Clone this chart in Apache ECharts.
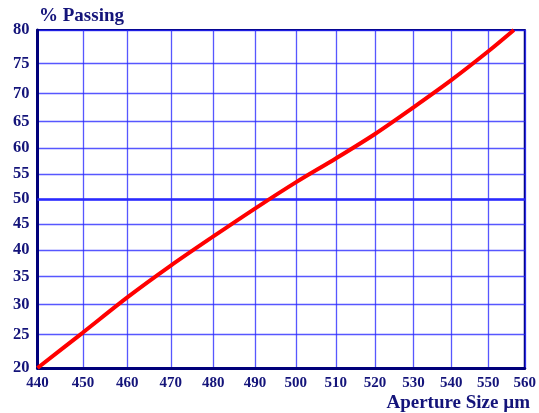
<!DOCTYPE html>
<html>
<head>
<meta charset="utf-8">
<script src="https://cdn.jsdelivr.net/npm/echarts@6/dist/echarts.min.js"></script>
<style>html,body{margin:0;padding:0;background:#fff}#c{width:539px;height:413px}</style>
</head>
<body>
<div id="c"></div>
<script>
// Data (aperture size in µm, % passing)
var sizes   = [440, 450, 460, 470, 480, 490, 500, 510, 520, 530, 540, 550, 557];
var passing = [20, 25.3, 31.2, 37, 42.6, 48.1, 53.3, 58.0, 62.7, 67.6, 72.3, 76.9, 80];
var xTicks = [440, 450, 460, 470, 480, 490, 500, 510, 520, 530, 540, 550, 560];
var yTicks = [20, 25, 30, 35, 40, 45, 50, 55, 60, 65, 70, 75, 80];

// inverse normal CDF (Acklam) for probability-scale axis
function probit(p) {
  var a = [-3.969683028665376e+01, 2.209460984245205e+02, -2.759285104469687e+02, 1.383577518672690e+02, -3.066479806614716e+01, 2.506628277459239e+00];
  var b = [-5.447609879822406e+01, 1.615858368580409e+02, -1.556989798598866e+02, 6.680131188771972e+01, -1.328068155288572e+01];
  var c = [-7.784894002430293e-03, -3.223964580411365e-01, -2.400758277161838e+00, -2.549732539343734e+00, 4.374664141464968e+00, 2.938163982698783e+00];
  var d = [7.784695709041462e-03, 3.224671290700398e-01, 2.445134137142996e+00, 3.754408661907416e+00];
  var pl = 0.02425, q, r;
  if (p < pl) { q = Math.sqrt(-2 * Math.log(p)); return (((((c[0]*q+c[1])*q+c[2])*q+c[3])*q+c[4])*q+c[5]) / ((((d[0]*q+d[1])*q+d[2])*q+d[3])*q+1); }
  if (p > 1 - pl) { q = Math.sqrt(-2 * Math.log(1 - p)); return -(((((c[0]*q+c[1])*q+c[2])*q+c[3])*q+c[4])*q+c[5]) / ((((d[0]*q+d[1])*q+d[2])*q+d[3])*q+1); }
  q = p - 0.5; r = q * q;
  return (((((a[0]*r+a[1])*r+a[2])*r+a[3])*r+a[4])*r+a[5])*q / (((((b[0]*r+b[1])*r+b[2])*r+b[3])*r+b[4])*r+1);
}
function ty(p) { return probit(p / 100); }
function tx(s) { return Math.log(s); }

var yT = yTicks.map(ty);
var xT = xTicks.map(tx);
function nearest(arr, labels, v) {
  var best = 0, bd = 1e9;
  for (var i = 0; i < arr.length; i++) { var dd = Math.abs(arr[i] - v); if (dd < bd) { bd = dd; best = i; } }
  return String(labels[best]);
}
function yLabel(v) { return nearest(yT, yTicks, v); }
function xLabel(v) { return nearest(xT, xTicks, v); }

var navy = '#00007a';
var labelNavy = '#14147a';
var gridBlue = 'rgba(40,40,255,0.78)';
var font = '"Liberation Serif", "Times New Roman", serif';

var chart = echarts.init(document.getElementById('c'), null, {renderer: 'canvas'});
chart.setOption({
  animation: false,
  backgroundColor: '#fff',
  grid: {left: 37.5, right: 12, top: 30, bottom: 45, show: true, borderColor: navy, borderWidth: 2, containLabel: false},
  graphic: [
    {type: 'text', left: 39, top: 7, style: {text: '% Passing', font: 'bold 19px ' + font, fill: labelNavy}},
    {type: 'text', right: 9, bottom: 0, style: {text: 'Aperture Size µm', font: 'bold 19px ' + font, fill: labelNavy}}
  ],
  xAxis: {
    type: 'value', min: tx(440), max: tx(560),
    axisLine: {show: true, onZero: false, lineStyle: {color: navy, width: 3}},
    axisTick: {show: false, customValues: xT},
    axisLabel: {customValues: xT, formatter: xLabel, color: labelNavy, fontFamily: font, fontWeight: 'bold', fontSize: 15, margin: 8},
    splitLine: {show: true, lineStyle: {color: gridBlue, width: 1.3}}
  },
  yAxis: {
    type: 'value', min: ty(20), max: ty(80),
    axisLine: {show: true, onZero: false, lineStyle: {color: navy, width: 3}},
    axisTick: {show: false, customValues: yT},
    axisLabel: {customValues: yT, formatter: yLabel, color: labelNavy, fontFamily: font, fontWeight: 'bold', fontSize: 16.5, margin: 8},
    splitLine: {show: true, lineStyle: {color: gridBlue, width: 1.3}}
  },
  series: [{
    type: 'line',
    data: sizes.map(function (s, i) { return [tx(s), ty(passing[i])]; }),
    smooth: 0.3,
    showSymbol: false,
    lineStyle: {color: '#ff0000', width: 4},
    z: 5,
    markLine: {
      silent: true, symbol: 'none', label: {show: false},
      lineStyle: {color: '#2a2aff', width: 2.5, type: 'solid'},
      data: [{yAxis: ty(50)}]
    }
  }]
});
</script>
</body>
</html>
